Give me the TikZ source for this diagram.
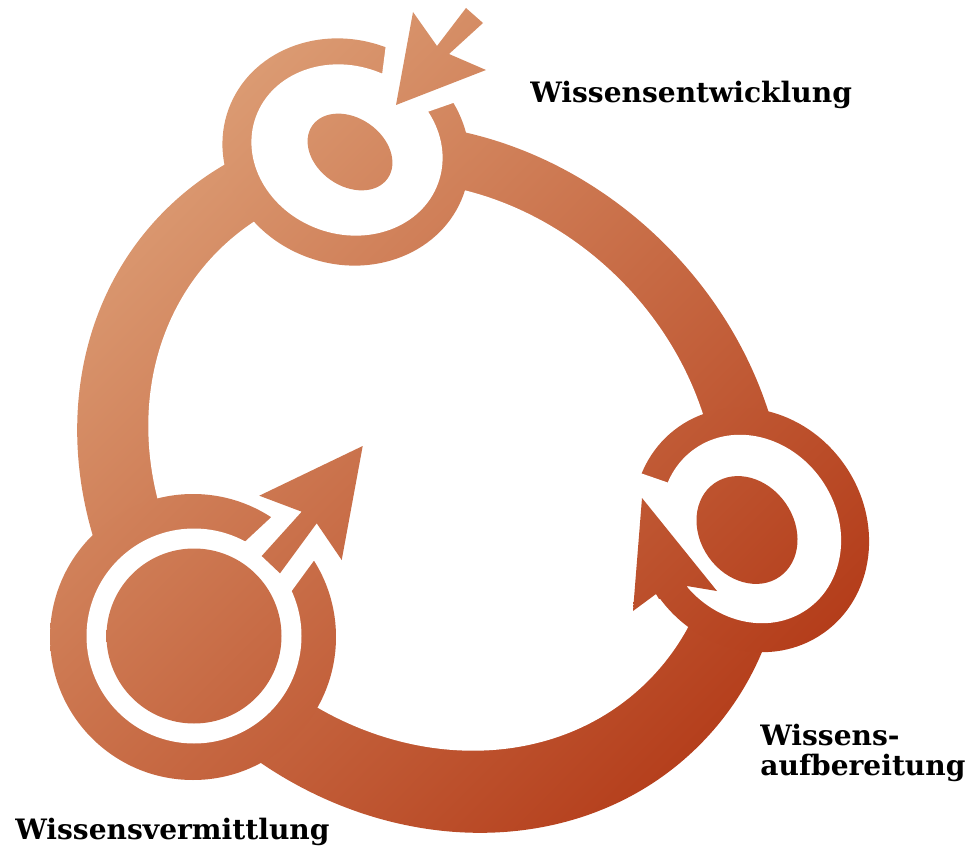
\documentclass[tikz,border=0pt]{standalone}
\usepackage{fontspec}
\setmainfont{DejaVu Serif}
\usetikzlibrary{shadings}
\definecolor{knowlight}{RGB}{230,181,140}
\definecolor{knowmidA}{RGB}{197,102,63}
\definecolor{knowmidB}{RGB}{201,111,72}
\definecolor{knowdark}{RGB}{168,32,0}
\begin{document}
\begin{tikzpicture}[x=0.02cm, y=-0.02cm,
  grad/.style={path picture={\pgftransformreset
    \shade[upper left=knowlight, upper right=knowmidA, lower left=knowmidB, lower right=knowdark]
      (0,0) rectangle (966,847);}},
  lbl/.style={font=\bfseries\fontsize{16}{17}\selectfont, inner sep=0pt}
]
  \useasboundingbox (0,0) rectangle (966,847);
  % ring
  \path[grad, shift={(432,478)}, rotate=-45] (0,0) ellipse [x radius=378, y radius=330];
  \fill[white, shift={(433,466)}, rotate=-45] (0,0) ellipse [x radius=304, y radius=264];
  % knot top
  \path[grad, shift={(346,152)}, rotate=-20] (0,0) ellipse [x radius=125, y radius=112];
  \fill[white, shift={(347,150)}, rotate=-20] (0,0) ellipse [x radius=97, y radius=84];
  \path[grad, shift={(350,152)}, rotate=-35] (0,0) ellipse [x radius=46, y radius=34];
  % knot right
  \path[grad, shift={(751,530)}, rotate=-55] (0,0) ellipse [x radius=126, y radius=114];
  \fill[white, shift={(751,529)}, rotate=-55] (0,0) ellipse [x radius=98, y radius=86];
  \path[grad, shift={(747,530)}, rotate=-55] (0,0) ellipse [x radius=57, y radius=47];
  % knot left
  \path[grad] (193,637) circle [radius=143];
  \fill[white] (194,636) circle [radius=107.5];
  \path[grad] (194,636) circle [radius=87.5];
  % gaps
  \fill[white] (387.5,32) -- (379.7,93) -- (410.1,118) -- (461.7,100) -- (470,30) -- cycle;
  \fill[white] (620,466) -- (672,484) -- (705,560) -- (705,597) -- (687,586) -- (656,594) -- (620,615) -- cycle;
  \fill[white] (240.8,545.6) -- (275.8,513) -- (305,505) -- (325,545) -- (316.9,556.5) -- (288,596) -- cycle;
  % arrows
  \path[grad] (396,105) -- (413,12) -- (437,46) -- (466,8) -- (483,23) -- (449,54) -- (486,70) -- cycle;
  \path[grad] (642,498) -- (633,611) -- (656,594) -- (659,599) -- (688,591) -- (687,586) -- (717,591) -- cycle;
  \path[grad] (362.7,446) -- (341.7,560) -- (316.7,523.3) -- (280,573.3) -- (261.7,556) -- (301.7,511.7) -- (259.3,495.7) -- cycle;
  % labels
  \node[lbl, anchor=base west] (labE) at (530,103) {Wissensentwicklung};
  \node[lbl, anchor=base west, align=left] (labA) at (760,775) {Wissens-\\aufbereitung};
  \node[lbl, anchor=base west] (labV) at (15,839) {Wissensvermittlung};
\end{tikzpicture}
\end{document}
